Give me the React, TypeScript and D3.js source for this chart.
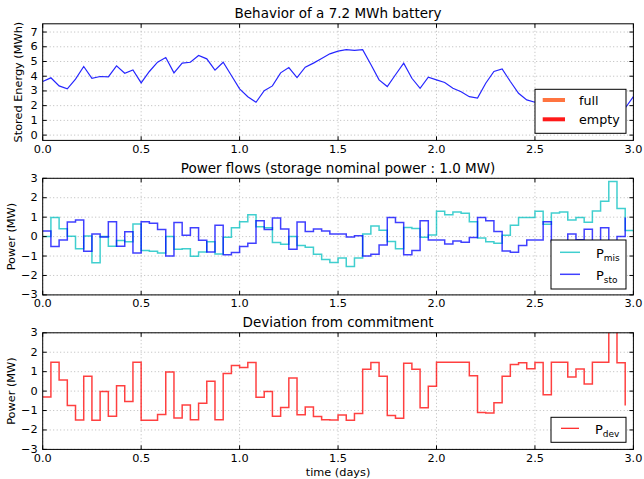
import React from 'react';
import * as d3 from 'd3';

// ---------- data (hourly, time in hours) ----------
const energy = [
  3.64, 3.89, 3.34, 3.14, 3.8, 4.66, 3.86, 3.98, 3.95, 4.7, 4.2, 4.43, 3.55, 4.32, 4.95, 5.27,
  4.23, 4.89, 4.95, 5.41, 5.18, 4.41, 4.95, 4.05, 3.14, 2.61, 2.23, 3.02, 3.34, 4.23, 4.59, 3.91,
  4.61, 4.89, 5.2, 5.52, 5.7, 5.8, 5.75, 5.8, 4.8, 3.75, 3.3, 4.1, 4.89, 3.86, 3.18, 3.93,
  3.75, 3.57, 3.18, 2.95, 2.61, 2.52, 3.52, 4.32, 4.5, 3.64, 2.84, 2.39, 2.23, 2.07, 2.8, 2.55,
  2.35, 2.48, 2.33, 2.68, 2.46, 2.85, 1.84, 1.84, 2.61,
];
const pMis = [
  0, 0.98, 0.4, 0.02, -0.62, 0.03, -1.35, 0, -0.5, -0.2, -0.27, 0.65, -0.72, -0.75, -0.84, 0,
  -0.65, -0.63, -1.01, -0.79, -0.27, -0.89, -0.03, 0.46, 0.77, 1.13, 0.51, 0.45, -0.31, -0.39, 0, -0.46,
  -0.55, -0.91, -1.18, -1.33, -1.1, -1.54, -1.1, 0.14, 0.55, 0.33, -0.25, -0.63, 0.47, 0.42, -0.03, 0.08,
  1.31, 1.13, 1.27, 1.2, 0.77, -0.07, -0.26, -0.34, 0.07, 0.58, 0.98, 0.98, 1.3, 0.63, 1.22, 1.26,
  0.86, 0.98, 0.74, 1.32, 1.82, 2.83, 1.45, 0.31, 0.31,
];
const pSto = [
  0.29, -0.51, -0.17, 0.75, 0.86, -0.75, 0.14, -0.02, 0.77, -0.5, 0.25, -0.84, 0.77, 0.69, 0.37, -1.0,
  0.72, 0.07, 0.46, -0.19, -0.79, 0.58, -0.94, -0.82, -0.51, -0.34, 0.81, 0.36, 0.96, 0.39, -0.65, 0.75,
  0.26, 0.39, 0.29, 0.14, 0.14, -0.02, 0.05, -1.0, -0.91, -0.43, 0.98, 0.72, -0.94, -0.72, 0.82, -0.17,
  -0.17, -0.38, -0.22, -0.29, -0.05, 0.98, 0.82, 0.26, -0.74, -0.8, -0.46, -0.17, -0.17, 0.77, -0.27, -0.21,
  0.14, -0.16, 0.38, -0.23, 0.45, -1.1, 0.0, 0.98,
];
const pDev = [
  -0.3, 1.48, 0.57, -0.74, -1.49, 0.77, -1.5, -0.02, -1.3, 0.28, -0.54, 1.49, -1.5, -1.5, -1.21, 0.98,
  -1.38, -0.71, -1.48, -0.62, 0.51, -1.48, 0.9, 1.32, 1.22, 1.47, -0.32, -0.02, -1.3, -0.84, 0.67, -1.22,
  -0.82, -1.31, -1.48, -1.49, -1.23, -1.5, -1.15, 1.12, 1.47, 0.77, -1.25, -1.4, 1.43, 1.12, -0.86, 0.25,
  1.48, 1.48, 1.48, 1.48, 0.79, -1.1, -1.13, -0.6, 0.77, 1.37, 1.46, 1.15, 1.47, -0.19, 1.48, 1.48,
  0.72, 1.14, 0.36, 1.48, 1.48, 3.9, 1.46, -0.74,
];
const xTicks = [0, 0.5, 1, 1.5, 2, 2.5, 3];
const energyTicks = [0, 1, 2, 3, 4, 5, 6, 7];
const powerTicks = [-3, -2, -1, 0, 1, 2, 3];
const titles = [
  'Behavior of a 7.2 MWh battery',
  'Power flows (storage nominal power : 1.0 MW)',
  'Deviation from commitment',
];
const yLabels = ['Stored Energy (MWh)', 'Power (MW)', 'Power (MW)'];
const capacity = 7.2;

// ---------- layout ----------
const W = 644;
const H = 479;
const LEFT = 42.7;
const RIGHT = 633.4;
const TOPS = [23.8, 178.3, 332.8];
const PH = 116.6;
const FONT = 'DejaVu Sans, sans-serif';

const x = d3.scaleLinear().domain([0, 3]).range([LEFT, RIGHT]);
const fmtX = d3.format('.1f');
const fmtY = (v: number) => (v < 0 ? '\u2212' + Math.abs(v) : String(v));

type Series = { values: number[]; color: string; step: boolean; width: number; opacity: number };

function Panel({ idx, domain, ticks, series, ylabelX, children }: any) {
  const top = TOPS[idx];
  const bottom = top + PH;
  const y = d3.scaleLinear().domain(domain).range([bottom, top]);
  const clipId = 'clip' + idx;
  return (
    <g>
      <defs>
        <clipPath id={clipId}>
          <rect x={LEFT} y={top} width={RIGHT - LEFT} height={PH} />
        </clipPath>
      </defs>
      {/* grid */}
      {xTicks.map((t) => (
        <line key={'gx' + t} x1={x(t)} x2={x(t)} y1={top} y2={bottom} stroke="#a8a8a8" strokeWidth={0.8} strokeDasharray="1,2.5" />
      ))}
      {ticks.map((t: number) => (
        <line key={'gy' + t} x1={LEFT} x2={RIGHT} y1={y(t)} y2={y(t)} stroke="#a8a8a8" strokeWidth={0.8} strokeDasharray="1,2.5" />
      ))}
      {/* series */}
      <g clipPath={`url(#${clipId})`}>
        {series.map((s: Series, i: number) => {
          const line = d3
            .line<number>()
            .x((_, k) => x(k / 24))
            .y((v) => y(v))
            .curve(s.step ? d3.curveStepAfter : d3.curveLinear);
          return (
            <path key={i} d={line(s.values) || ''} fill="none" stroke={s.color} strokeWidth={s.width} strokeOpacity={s.opacity} strokeLinejoin="miter" />
          );
        })}
      </g>
      {/* ticks */}
      {xTicks.map((t) => (
        <g key={'tx' + t}>
          <line x1={x(t)} x2={x(t)} y1={bottom} y2={bottom - 4} stroke="#000" />
          <line x1={x(t)} x2={x(t)} y1={top} y2={top + 4} stroke="#000" />
          <text x={x(t)} y={bottom + 12.4} textAnchor="middle" fontSize={11.3} fontFamily={FONT}>
            {fmtX(t)}
          </text>
        </g>
      ))}
      {ticks.map((t: number) => (
        <g key={'ty' + t}>
          <line x1={LEFT} x2={LEFT + 4} y1={y(t)} y2={y(t)} stroke="#000" />
          <line x1={RIGHT} x2={RIGHT - 4} y1={y(t)} y2={y(t)} stroke="#000" />
          <text x={LEFT - 5} y={y(t)} textAnchor="end" dominantBaseline="central" fontSize={11.3} fontFamily={FONT}>
            {fmtY(t)}
          </text>
        </g>
      ))}
      <rect x={LEFT} y={top} width={RIGHT - LEFT} height={PH} fill="none" stroke="#000" strokeWidth={1} />
      <text x={(LEFT + RIGHT) / 2} y={top - 5.6} textAnchor="middle" fontSize={13.5} fontFamily={FONT}>
        {titles[idx]}
      </text>
      <text
        transform={`translate(${ylabelX},${top + PH / 2}) rotate(-90)`}
        textAnchor="middle"
        dominantBaseline="central"
        fontSize={11.3}
        fontFamily={FONT}
      >
        {yLabels[idx]}
      </text>
      {children}
    </g>
  );
}

function PLabel({ x0, yb, sub }: { x0: number; yb: number; sub: string }) {
  return (
    <text x={x0} y={yb} fontSize={13} fontFamily={FONT}>
      P
      <tspan fontSize={9} dy={3}>
        {sub}
      </tspan>
    </text>
  );
}

export default function App() {
  const eTop = 1.05 * capacity;
  const eBot = -0.05 * capacity;
  return (
    <svg
      width={W}
      height={H}
      viewBox={`0 0 ${W} ${H}`}
      style={{ position: 'absolute', left: 0, top: 0, background: '#fff' }}
    >
      <rect x={0} y={0} width={W} height={H} fill="#fff" />
      <Panel
        idx={0}
        domain={[eBot, eTop]}
        ticks={energyTicks}
        ylabelX={18.3}
        series={[{ values: energy, color: '#0000ff', step: false, width: 1.2, opacity: 0.85 }]}
      >
        <rect x={535} y={89.3} width={91} height={44} fill="#fff" stroke="#000" strokeWidth={1} />
        <line x1={542.7} x2={565} y1={100} y2={100} stroke="orangered" strokeOpacity={0.75} strokeWidth={4} />
        <line x1={542.7} x2={565} y1={119.3} y2={119.3} stroke="red" strokeOpacity={0.9} strokeWidth={4} />
        <text x={579} y={105} fontSize={12.7} fontFamily={FONT}>full</text>
        <text x={579} y={124} fontSize={12.7} fontFamily={FONT}>empty</text>
      </Panel>
      <Panel
        idx={1}
        domain={[-3, 3]}
        ticks={powerTicks}
        ylabelX={11.5}
        series={[
          { values: pMis, color: '#00bfbf', step: true, width: 1.5, opacity: 0.75 },
          { values: pSto, color: '#0000ff', step: true, width: 1.5, opacity: 0.75 },
        ]}
      >
        <rect x={551} y={240} width={75} height={49} fill="#fff" stroke="#000" strokeWidth={1} />
        <line x1={560} x2={580} y1={252.3} y2={252.3} stroke="#00bfbf" strokeOpacity={0.75} strokeWidth={1.5} />
        <line x1={560} x2={580} y1={274.3} y2={274.3} stroke="#0000ff" strokeOpacity={0.75} strokeWidth={1.5} />
        <PLabel x0={596} yb={258.3} sub="mis" />
        <PLabel x0={596} yb={280.3} sub="sto" />
      </Panel>
      <Panel
        idx={2}
        domain={[-3, 3]}
        ticks={powerTicks}
        ylabelX={11}
        series={[{ values: pDev, color: '#ff0000', step: true, width: 1.5, opacity: 0.75 }]}
      >
        <rect x={551} y={417.3} width={75} height={25} fill="#fff" stroke="#000" strokeWidth={1} />
        <line x1={561} x2={579} y1={428.3} y2={428.3} stroke="#ff0000" strokeOpacity={0.9} strokeWidth={1.2} />
        <PLabel x0={595} yb={434.3} sub="dev" />
      </Panel>
      <text x={(LEFT + RIGHT) / 2} y={475.5} textAnchor="middle" fontSize={11.3} fontFamily={FONT}>
        time (days)
      </text>
    </svg>
  );
}
